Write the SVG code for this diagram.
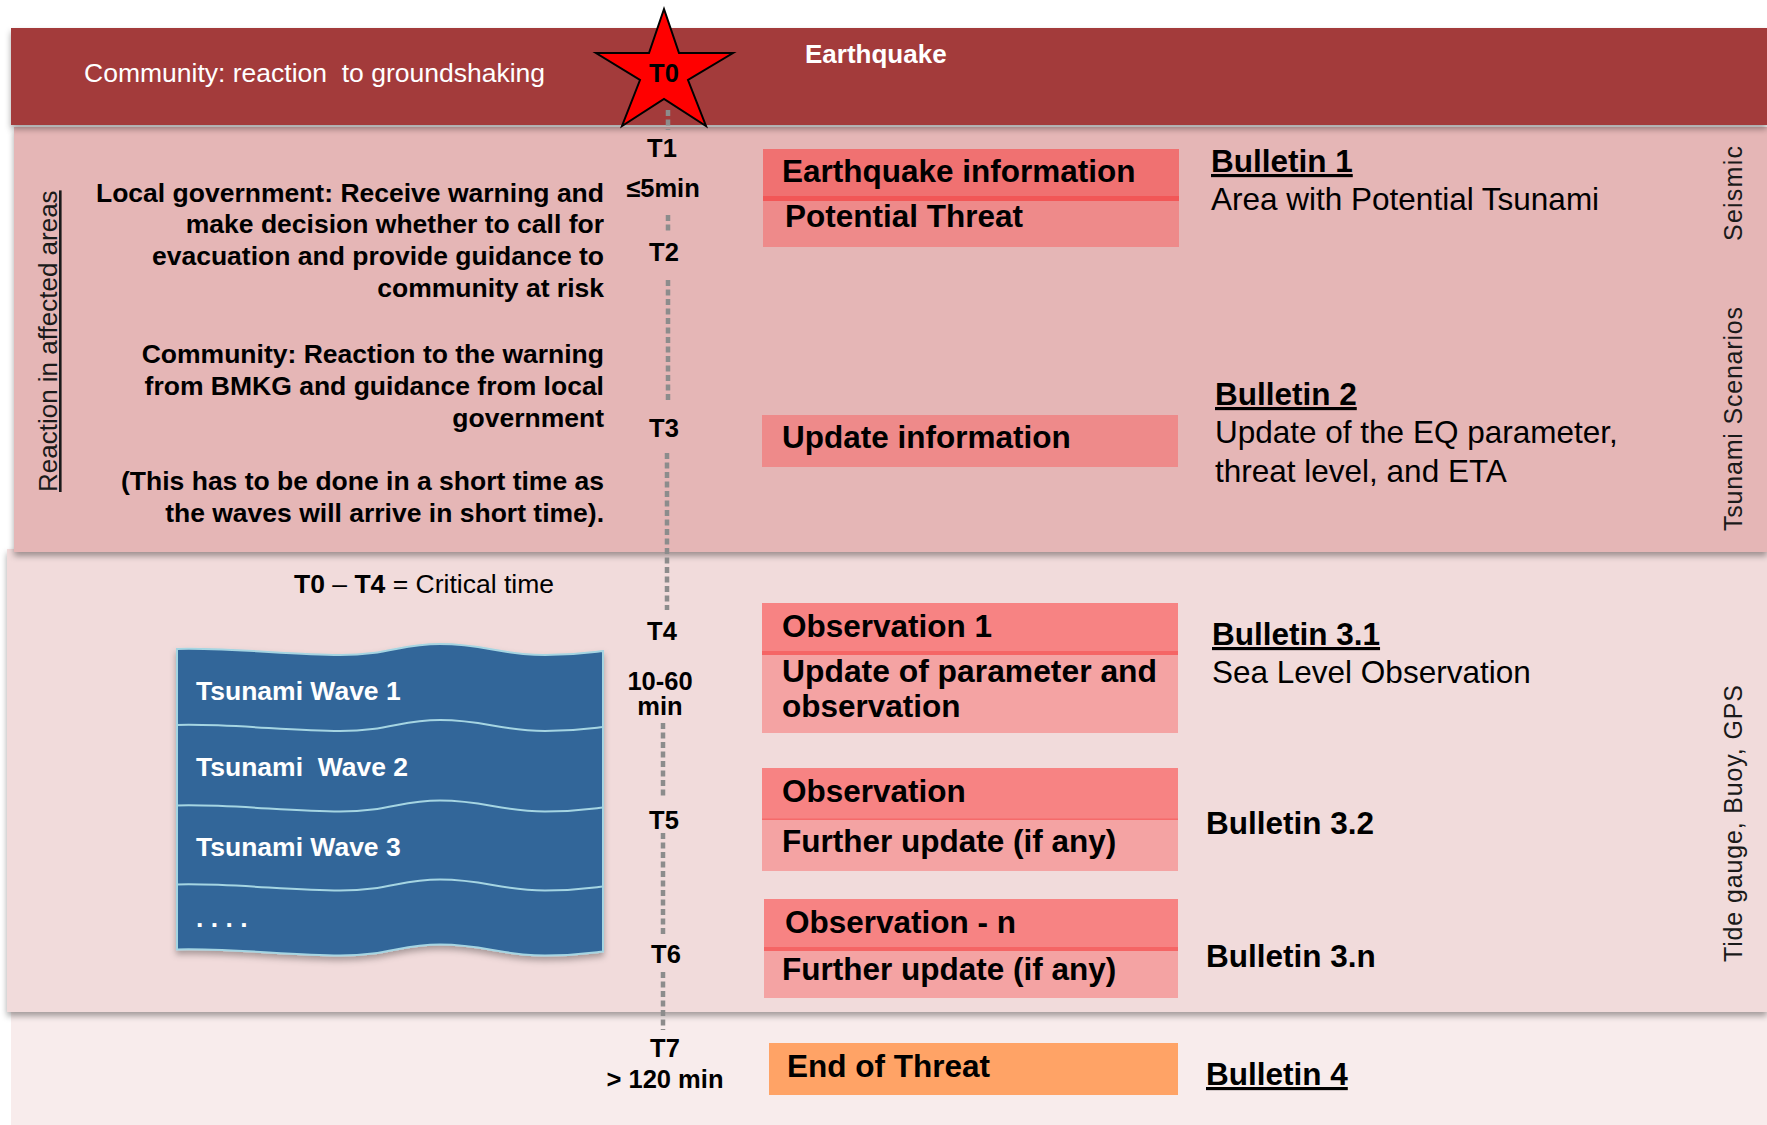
<svg xmlns="http://www.w3.org/2000/svg" width="1767" height="1125" viewBox="0 0 1767 1125">
<style>
text{font-family:"Liberation Sans",Arial,sans-serif;}
.b{font-weight:bold;}
.w{fill:#ffffff;}
.k{fill:#000000;}
.pre{white-space:pre;}
.lbl{font-size:25.5px;font-weight:bold;fill:#000;text-anchor:middle;}
.left{font-size:26.5px;font-weight:bold;fill:#000;text-anchor:end;}
.box{font-size:31.5px;font-weight:bold;fill:#000;}
.bul{font-size:31.5px;font-weight:bold;fill:#000;}
.u{text-decoration:underline;}
.desc{font-size:31.5px;fill:#000;}
.rot{font-size:25px;fill:#1a1a1a;}
.wave{font-size:26.5px;font-weight:bold;fill:#fff;}
.tl{stroke:#8c8c8c;stroke-width:4.5;stroke-dasharray:6 3.5;fill:none;}
</style>
<defs>
<filter id="sh" x="-5%" y="-20%" width="110%" height="140%">
<feDropShadow dx="0" dy="4" stdDeviation="3" flood-color="#000" flood-opacity="0.35"/>
</filter>
<filter id="wsh" x="-10%" y="-10%" width="120%" height="120%">
<feDropShadow dx="0" dy="4" stdDeviation="3" flood-color="#000" flood-opacity="0.3"/>
</filter>
</defs>
<rect width="1767" height="1125" fill="#ffffff"/>

<g id="bands">
<rect id="band4" x="11" y="1008" width="1756" height="117" fill="#F8ECEC"/>
<rect id="band3" x="7" y="549" width="1760" height="463" fill="#F1DBDB" filter="url(#sh)"/>
<rect id="band2" x="14" y="127" width="1753" height="425" fill="#E5B6B6" filter="url(#sh)"/>
<rect id="band1" x="11" y="28" width="1756" height="97" fill="#A33B3A" filter="url(#sh)"/>
</g>

<g id="band1-text">
<text class="w pre" x="84" y="82" font-size="26.5">Community: reaction  to groundshaking</text>
<text class="w b" x="805" y="63" font-size="26">Earthquake</text>
</g>

<g id="connectors">
<line class="tl" x1="668" y1="110" x2="668" y2="130"/>
<line class="tl" x1="668" y1="215" x2="668" y2="232"/>
<line class="tl" x1="668" y1="280" x2="668" y2="403"/>
<line class="tl" x1="667" y1="453" x2="667" y2="610"/>
<line class="tl" x1="663" y1="723" x2="663" y2="798"/>
<line class="tl" x1="663" y1="833" x2="663" y2="937"/>
<line class="tl" x1="663" y1="972" x2="663" y2="1030"/>
</g>

<g id="star-T0">
<polygon points="664,9 679,53 733,53 688,80 706,126 664,99 622,126 640,80 596,53 649,53" fill="#FF0000" stroke="#000" stroke-width="2" stroke-linejoin="miter"/>
<text class="lbl" x="664" y="82" font-size="25">T0</text>
</g>

<g id="timeline-labels">
<text class="lbl" x="662" y="157">T1</text>
<text class="lbl" x="663" y="197">≤5min</text>
<text class="lbl" x="664" y="261">T2</text>
<text class="lbl" x="664" y="437">T3</text>
<text class="lbl" x="662" y="640">T4</text>
<text class="lbl" x="660" y="690">10-60<tspan x="660" dy="25">min</tspan></text>
<text class="lbl" x="664" y="829">T5</text>
<text class="lbl" x="666" y="963">T6</text>
<text class="lbl" x="665" y="1057">T7</text>
<text class="lbl" x="665" y="1088">&gt; 120 min</text>
</g>

<g id="reaction-text">
<text class="left" x="604" y="202">Local government: Receive warning and</text>
<text class="left" x="604" y="233">make decision whether to call for</text>
<text class="left" x="604" y="265">evacuation and provide guidance to</text>
<text class="left" x="604" y="297">community at risk</text>
<text class="left" x="604" y="363">Community: Reaction to the warning</text>
<text class="left" x="604" y="395">from BMKG and guidance from local</text>
<text class="left" x="604" y="427">government</text>
<text class="left" x="604" y="490">(This has to be done in a short time as</text>
<text class="left" x="604" y="522">the waves will arrive in short time).</text>
<text class="u" transform="translate(57,492) rotate(-90)" font-size="26" fill="#1a1a1a">Reaction in affected areas</text>
</g>

<g id="critical-time">
<text x="294" y="593" font-size="26.5" fill="#000" class="pre"><tspan font-weight="bold">T0</tspan> – <tspan font-weight="bold">T4</tspan> = Critical time</text>
</g>

<g id="tsunami-waves">
<path filter="url(#wsh)" fill="#336699" stroke="#A5D5E2" stroke-width="2" d="M177,649 C230,647.5 290,655 340,655 C390,655 400,644 440,644 C485,644 500,655 545,655 C575,655 590,652.5 603,651 L603,951.5 C590,953 575,955.5 545,955.5 C500,955.5 485,944.5 440,944.5 C400,944.5 390,955.5 340,955.5 C290,955.5 230,948 177,949.5 Z"/>
<path fill="none" stroke="#A5D5E2" stroke-width="2" d="M177,725 C230,723.5 290,731 340,731 C390,731 400,720 440,720 C485,720 500,731 545,731 C575,731 590,728.5 603,727"/>
<path fill="none" stroke="#A5D5E2" stroke-width="2" d="M177,805.5 C230,804 290,811.5 340,811.5 C390,811.5 400,800.5 440,800.5 C485,800.5 500,811.5 545,811.5 C575,811.5 590,809 603,807.5"/>
<path fill="none" stroke="#A5D5E2" stroke-width="2" d="M177,884.5 C230,883 290,890.5 340,890.5 C390,890.5 400,879.5 440,879.5 C485,879.5 500,890.5 545,890.5 C575,890.5 590,888 603,886.5"/>
<text class="wave" x="196" y="700">Tsunami Wave 1</text>
<text class="wave pre" x="196" y="776">Tsunami  Wave 2</text>
<text class="wave" x="196" y="856">Tsunami Wave 3</text>
<text class="wave" x="196" y="927">. . . .</text>
</g>

<g id="box-eq-info">
<rect x="763" y="149" width="416" height="48" fill="#F07171"/>
<rect x="763" y="196" width="416" height="5" fill="#F25757"/>
<rect x="763" y="201" width="416" height="46" fill="#EE8A8A"/>
<text class="box" x="782" y="182">Earthquake information</text>
<text class="box" x="785" y="227">Potential Threat</text>
</g>

<g id="box-update-info">
<rect x="762" y="415" width="416" height="52" fill="#EE8A8A"/>
<text class="box" x="782" y="448">Update information</text>
</g>

<g id="box-observation-1">
<rect x="762" y="603" width="416" height="48" fill="#F78383"/>
<rect x="762" y="651" width="416" height="4" fill="#F56565"/>
<rect x="762" y="655" width="416" height="78" fill="#F4A3A3"/>
<text class="box" x="782" y="637">Observation 1</text>
<text class="box" x="782" y="682" font-size="31" textLength="375" lengthAdjust="spacingAndGlyphs">Update of parameter and</text>
<text class="box" x="782" y="717" font-size="31">observation</text>
</g>

<g id="box-observation">
<rect x="762" y="768" width="416" height="51" fill="#F78383"/>
<rect x="762" y="818.5" width="416" height="1.5" fill="#F56A6A"/>
<rect x="762" y="820" width="416" height="51" fill="#F4A3A3"/>
<text class="box" x="782" y="802">Observation</text>
<text class="box" x="782" y="852">Further update (if any)</text>
</g>

<g id="box-observation-n">
<rect x="764" y="899" width="414" height="48" fill="#F78383"/>
<rect x="764" y="947" width="414" height="4" fill="#F56565"/>
<rect x="764" y="951" width="414" height="47" fill="#F4A3A3"/>
<text class="box" x="785" y="933">Observation - n</text>
<text class="box" x="782" y="980">Further update (if any)</text>
</g>

<g id="box-end-of-threat">
<rect x="769" y="1043" width="409" height="52" fill="#FFA366"/>
<text class="box" x="787" y="1077">End of Threat</text>
</g>

<g id="bulletins">
<text class="bul u" x="1211" y="172">Bulletin 1</text>
<text class="desc" x="1211" y="210">Area with Potential Tsunami</text>
<text class="bul u" x="1215" y="405">Bulletin 2</text>
<text class="desc" x="1215" y="443">Update of the EQ parameter,</text>
<text class="desc" x="1215" y="482">threat level, and ETA</text>
<text class="bul u" x="1212" y="645">Bulletin 3.1</text>
<text class="desc" x="1212" y="683">Sea Level Observation</text>
<text class="bul" x="1206" y="834">Bulletin 3.2</text>
<text class="bul" x="1206" y="967">Bulletin 3.n</text>
<text class="bul u" x="1206" y="1085">Bulletin 4</text>
</g>

<g id="sources">
<text class="rot" transform="translate(1742,241) rotate(-90)" textLength="95" lengthAdjust="spacing">Seismic</text>
<text class="rot" transform="translate(1742,531) rotate(-90)" textLength="224" lengthAdjust="spacing">Tsunami Scenarios</text>
<text class="rot" transform="translate(1742,962) rotate(-90)" textLength="277" lengthAdjust="spacing">Tide gauge, Buoy, GPS</text>
</g>
</svg>
